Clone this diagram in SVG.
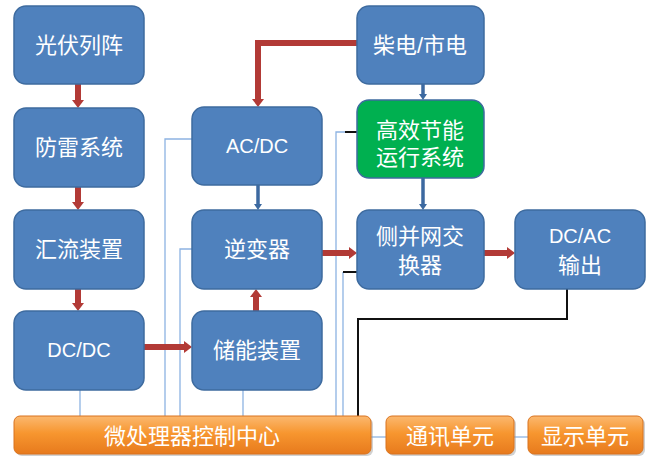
<svg xmlns="http://www.w3.org/2000/svg" width="659" height="464" viewBox="0 0 659 464">
<defs>
<linearGradient id="og" x1="0" y1="0" x2="0" y2="1">
<stop offset="0" stop-color="#fbb86f"/>
<stop offset="0.45" stop-color="#f7962f"/>
<stop offset="1" stop-color="#e77a1d"/>
</linearGradient>
<marker id="ra" markerUnits="userSpaceOnUse" markerWidth="8" markerHeight="12" refX="1" refY="6" orient="auto">
<path d="M0,0 L8,6 L0,12 z" fill="#b23a36"/>
</marker>
<marker id="ba" markerUnits="userSpaceOnUse" markerWidth="6" markerHeight="8" refX="1" refY="4" orient="auto">
<path d="M0,0 L6,4 L0,8 z" fill="#3c69a0"/>
</marker>
</defs>
<style>
.n{fill:#4f81bd;stroke:#3e6b9f;stroke-width:1.5}
.g{fill:#00b050;stroke:#3e6b9f;stroke-width:1.5}
.o{fill:url(#og);stroke:#d9731f;stroke-width:1}
.sh{fill:#9a9a9a;opacity:0.45}
.t{fill:#ffffff;font-family:"Liberation Sans","Noto Sans CJK SC",sans-serif;font-size:22px;text-anchor:middle}
.l{font-size:20px}
.red{fill:none;stroke:#b23a36;stroke-width:6}
.blu{fill:none;stroke:#3c69a0;stroke-width:3.5}
.thin{fill:none;stroke:#8db3e2;stroke-width:1.3}
.blk{fill:none;stroke:#111111;stroke-width:2}
</style>

<g id="connectors">
<path class="thin" d="M192,139 H165 V416"/>
<path class="thin" d="M192,249 H180 V416"/>
<path class="thin" d="M80,390 V416"/>
<path class="thin" d="M243,390 V416"/>
<path class="thin" d="M345,132 H336 V416"/>
<path class="blk" d="M345,132 H357"/>
<path class="thin" d="M343,272 V416"/>
<path class="blk" d="M343,272 H357"/>
<path class="blk" d="M567,289 V319 H358 V416"/>
<path class="thin" d="M371,437 H386"/>
<path class="thin" d="M514,437 H528"/>
<path class="red" d="M78,84 V101" marker-end="url(#ra)"/>
<path class="red" d="M78,187 V203" marker-end="url(#ra)"/>
<path class="red" d="M78,289 V304" marker-end="url(#ra)"/>
<path class="red" d="M144,347 H185" marker-end="url(#ra)"/>
<path class="red" d="M256,311 V296" marker-end="url(#ra)"/>
<path class="red" d="M322,253 H350" marker-end="url(#ra)"/>
<path class="red" d="M484,253 H508" marker-end="url(#ra)"/>
<path class="red" d="M357,43 H258 V100" marker-end="url(#ra)"/>
<path class="blu" d="M423,84 V95" marker-end="url(#ba)"/>
<path class="blu" d="M258,185 V205" marker-end="url(#ba)"/>
<path class="blu" d="M423,178 V205" marker-end="url(#ba)"/>
</g>

<g id="pv"><rect class="n" x="14" y="6" width="130" height="78" rx="12"/><text class="t" x="79" y="53">光伏列阵</text></g>
<g id="lightning"><rect class="n" x="14" y="108" width="130" height="79" rx="12"/><text class="t" x="79" y="155">防雷系统</text></g>
<g id="combiner"><rect class="n" x="14" y="210" width="130" height="79" rx="12"/><text class="t" x="79" y="257">汇流装置</text></g>
<g id="dcdc"><rect class="n" x="14" y="311" width="130" height="79" rx="12"/><text class="t l" x="79" y="357">DC/DC</text></g>
<g id="acdc"><rect class="n" x="192" y="107" width="130" height="78" rx="12"/><text class="t l" x="257" y="153">AC/DC</text></g>
<g id="inverter"><rect class="n" x="192" y="210" width="130" height="79" rx="12"/><text class="t" x="257" y="257">逆变器</text></g>
<g id="storage"><rect class="n" x="192" y="311" width="130" height="79" rx="12"/><text class="t" x="257" y="358">储能装置</text></g>
<g id="grid"><rect class="n" x="357" y="6" width="127" height="78" rx="12"/><text class="t" x="420" y="53">柴电/市电</text></g>
<g id="efficient"><rect class="g" x="357" y="100" width="127" height="78" rx="12"/><text class="t" x="420" y="138">高效节能</text><text class="t" x="420" y="165">运行系统</text></g>
<g id="switch"><rect class="n" x="357" y="210" width="127" height="79" rx="12"/><text class="t" x="420" y="244">侧并网交</text><text class="t" x="420" y="273">换器</text></g>
<g id="dcac"><rect class="n" x="515" y="210" width="130" height="79" rx="12"/><text class="t l" x="580" y="243">DC/AC</text><text class="t" x="580" y="273">输出</text></g>

<g id="mcu"><rect class="sh" x="16" y="418" width="357" height="38" rx="6"/><rect class="o" x="14" y="416" width="357" height="38" rx="6"/><text class="t" x="192" y="444">微处理器控制中心</text></g>
<g id="comm"><rect class="sh" x="388" y="418" width="128" height="38" rx="6"/><rect class="o" x="386" y="416" width="128" height="38" rx="6"/><text class="t" x="450" y="444">通讯单元</text></g>
<g id="display"><rect class="sh" x="530" y="418" width="115" height="38" rx="6"/><rect class="o" x="528" y="416" width="115" height="38" rx="6"/><text class="t" x="585" y="444">显示单元</text></g>
</svg>
